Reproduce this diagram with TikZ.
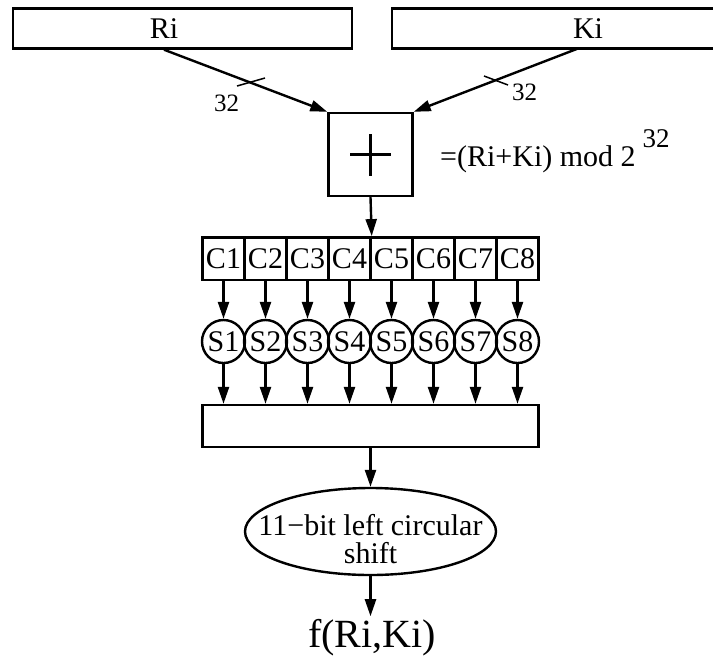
\documentclass[tikz,border=0pt]{standalone}
\usepackage{fontspec}
\setmainfont{Liberation Serif}
\usetikzlibrary{arrows.meta,shapes.geometric}
\begin{document}
\begin{tikzpicture}[x=1pt,y=-1pt,
  lw/.style={line width=2.4pt},
  arr/.style={lw,-{Triangle[length=17pt,width=11pt]}},
  boxnode/.style={draw,lw,inner sep=0pt},
  txt/.style={font=\fontsize{30}{30}\selectfont,inner sep=0pt},
  small/.style={font=\fontsize{25}{25}\selectfont,inner sep=0pt},
  cell/.style={boxnode,minimum width=42pt,minimum height=42.7pt,font=\fontsize{30}{30}\selectfont},
  sbox/.style={boxnode,circle,minimum size=43pt,font=\fontsize{30}{30}\selectfont},
  tick/.style={line width=1.5pt}
]
\useasboundingbox (0,0) rectangle (713,657);
\begin{scope}
\clip (0,0) rectangle (713,657);
% input boxes
\node[boxnode,minimum width=339pt,minimum height=40pt] (ri) at (182.5,28.5) {};
\node[boxnode,minimum width=340pt,minimum height=40pt] (ki) at (562,28.5) {};
\end{scope}
\node[txt,anchor=base] (ritxt) at (164,38) {Ri};
\node[txt,anchor=base] (kitxt) at (588,38) {Ki};
% adder
\node[boxnode,minimum width=84pt,minimum height=83pt] (plus) at (370.5,154.5) {};
\draw[lw] ([xshift=-20.5pt]plus.center) -- ([xshift=20.5pt]plus.center);
\draw[lw] ([yshift=-21pt]plus.center) -- ([yshift=21pt]plus.center);
\coordinate (riout) at (ritxt.base |- ri.south);
\coordinate (kiout) at (578,48.5);
\draw[arr] (riout) -- (plus.north west);
\draw[arr] (kiout) -- (plus.north east);
\draw[tick] (237,86) -- (265,78);
\draw[tick] (484,76) -- (508,85);
\node[small] (n1) at (226.5,103) {32};
\node[small] (n2) at (524.5,92.5) {32};
\node[txt,anchor=base west] (eq) at (440,166) {=(Ri+Ki) mod 2\hspace{7pt}\raisebox{19pt}{\fontsize{27}{27}\selectfont 32}};
% C row, S boxes
\foreach \k in {1,...,8}{
  \node[cell] (c\k) at ({223.5+42*(\k-1)},258.65) {C\k};
  \node[sbox] (s\k) at ({223.5+42*(\k-1)},341.5) {S\k};
}
\node[boxnode,minimum width=336pt,minimum height=42pt] (bot) at (370.5,426) {};
\foreach \k in {1,...,8}{
  \draw[arr] (c\k.south) -- (s\k.north);
  \draw[arr] (s\k.south) -- (s\k.south |- bot.north);
}
\draw[arr] (plus.south) -- (c4.north east);
% shift
\node[boxnode,ellipse,minimum width=251pt,minimum height=87pt] (ell) at (370.5,531.5) {};
\node[align=center,inner sep=0pt,font=\fontsize{30}{28}\selectfont] (elltxt) at (370.5,539.5) {11−bit left circular\\shift};
\draw[arr] (bot.south) -- (ell.north);
\node[font=\fontsize{40}{40}\selectfont,inner sep=3pt,anchor=base] (f) at (372,647.6) {f(Ri,Ki)};
\draw[arr] (ell.south) -- (ell.south |- f.north);
\end{tikzpicture}
\end{document}
